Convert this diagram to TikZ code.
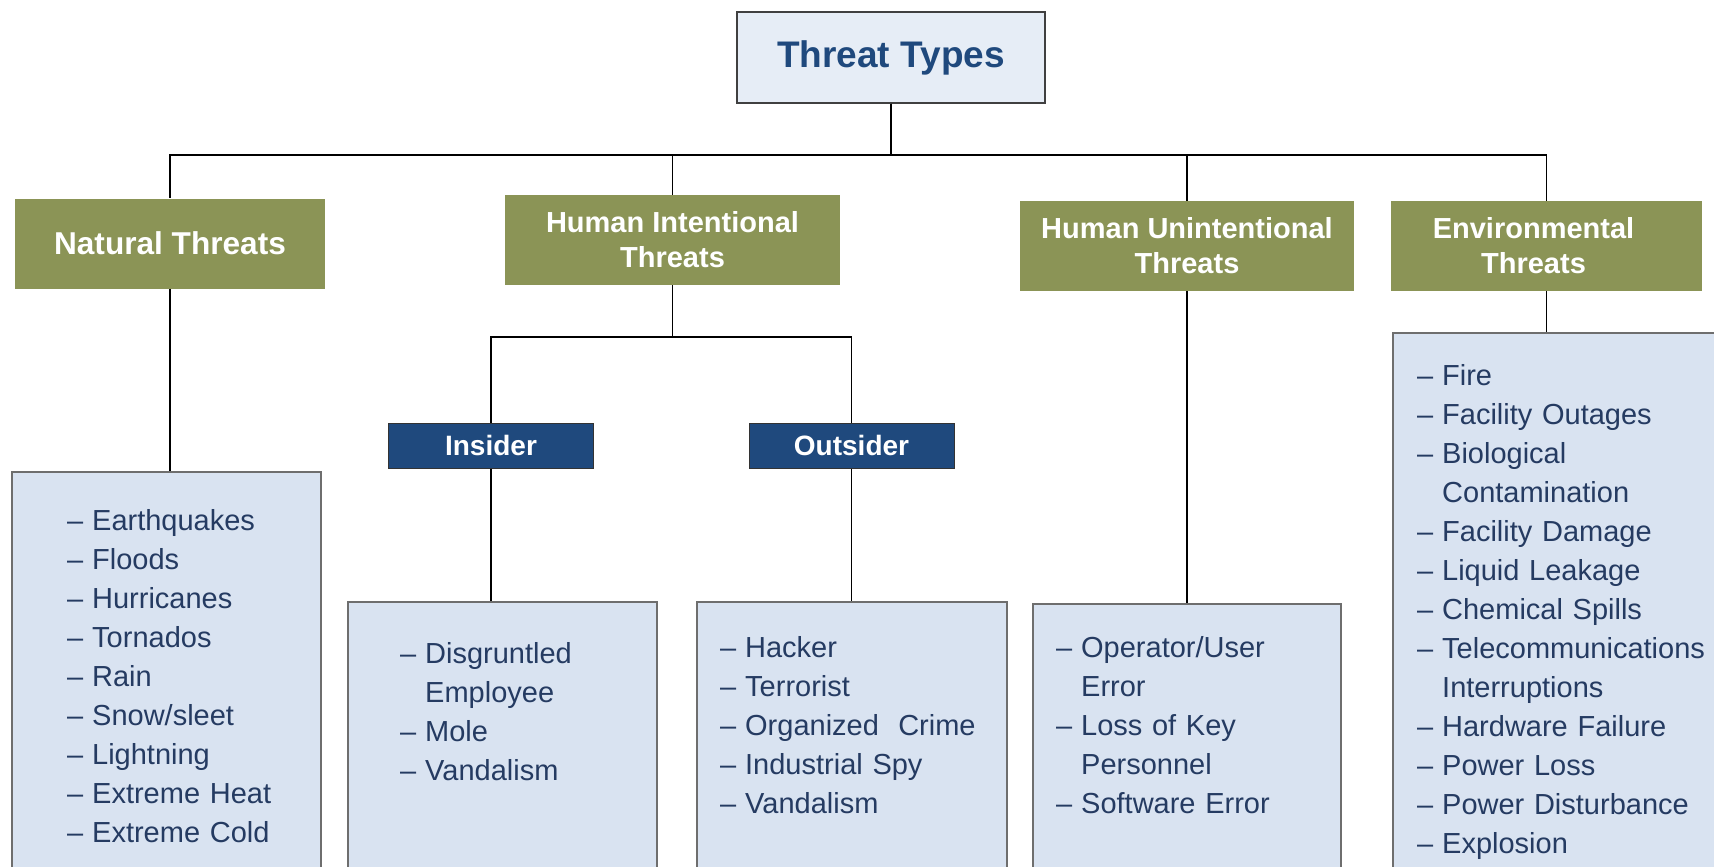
\documentclass[tikz,border=0pt]{standalone}
\usepackage{fontspec}
\setmainfont{Liberation Sans}
\definecolor{titleblue}{HTML}{1F497D}
\definecolor{itemblue}{HTML}{253B62}
\definecolor{paleblue}{HTML}{E6EDF6}
\definecolor{listblue}{HTML}{D9E3F1}
\definecolor{olivebox}{HTML}{8B9456}
\definecolor{boxgray}{HTML}{6E6E6E}
\usetikzlibrary{positioning,calc}

\newcommand{\itm}{\makebox[25pt][l]{–}}
\newcommand{\cont}{\hspace*{25pt}}

\tikzset{
  titlebox/.style={draw=black!75, line width=1.2pt, fill=paleblue, text=titleblue,
    font=\bfseries\fontsize{37}{42}\selectfont, inner sep=0pt,
    minimum width=308pt, minimum height=91pt},
  catbox/.style={fill=olivebox, text=white, font=\bfseries\fontsize{29}{35}\selectfont,
    align=center, inner sep=0pt, minimum width=#1, minimum height=90pt},
  sidebox/.style={draw=black!80, line width=1pt, fill=titleblue, text=white,
    font=\bfseries\fontsize{28}{32}\selectfont, inner sep=0pt,
    minimum width=205pt, minimum height=45pt},
  listbox/.style={draw=boxgray, line width=1.2pt, fill=listblue, inner sep=0pt},
  items/.style={anchor=base west, inner sep=0pt, text width=300pt, text=itemblue,
    font=\fontsize{29}{39}\selectfont},
  link/.style={line width=1.8pt}
}

\begin{document}
\begin{tikzpicture}[x=1pt,y=-1pt]
  \clip (0,0) rectangle (1714,867);
  \fill[white] (0,0) rectangle (1714,867);

  % top of the tree
  \node[titlebox] (types) at (891,57.5) {Threat Types};

  % the four kinds of threat
  \node[catbox=310pt, font=\bfseries\fontsize{31.6}{36}\selectfont] (nat) at (170,243.5) {Natural Threats};
  \node[catbox=335pt] (hint) at (672.5,240) {Human Intentional\\Threats};
  \node[catbox=334pt] (hunint) at (1187,246) {Human Unintentional\\Threats};
  \node[catbox=311pt] (env) at (1546.5,246) {Environmental\hspace*{26pt}\\Threats\hspace*{26pt}};

  \node[sidebox] (ins) at (491,445.5) {Insider};
  \node[sidebox] (out) at (851.5,445.5) {Outsider};

  % list boxes
  \node[listbox, minimum width=309pt, minimum height=428pt] (natlist) at (166.5,686) {};
  \node[listbox, minimum width=309pt, minimum height=298pt] (inslist) at (502.5,751) {};
  \node[listbox, minimum width=310pt, minimum height=298pt] (outlist) at (852,751) {};
  \node[listbox, minimum width=308pt, minimum height=296pt] (unintlist) at (1187,752) {};
  \node[listbox, minimum width=337pt, minimum height=567pt] (envlist) at (1561.5,616.5) {};

  \node[items] (natitems) at (67,530) {\itm Earthquakes\\\itm Floods\\\itm Hurricanes\\\itm Tornados\\\itm Rain\\\itm Snow/sleet\\\itm Lightning\\\itm Extreme Heat\\\itm Extreme Cold};
  \node[items] (insitems) at (400,663) {\itm Disgruntled\\\cont Employee\\\itm Mole\\\itm Vandalism};
  \node[items] (outitems) at (720,657) {\itm Hacker\\\itm Terrorist\\\itm Organized\ \ Crime\\\itm Industrial Spy\\\itm Vandalism};
  \node[items] (unintitems) at (1056,657) {\itm Operator/User\\\cont Error\\\itm Loss of Key\\\cont Personnel\\\itm Software Error};
  \node[items] (envitems) at (1417,385) {\itm Fire\\\itm Facility Outages\\\itm Biological\\\cont Contamination\\\itm Facility Damage\\\itm Liquid Leakage\\\itm Chemical Spills\\\itm Telecommunications\\\cont Interruptions\\\itm Hardware Failure\\\itm Power Loss\\\itm Power Disturbance\\\itm Explosion};

  % connectors
  \draw[link] (types.south) -- ++(0,51) -| (nat.north);
  \draw[link] (types.south) -- ++(0,51) -| (hint.north);
  \draw[link] (types.south) -- ++(0,51) -| (hunint.north);
  \draw[link] (types.south) -- ++(0,51) -| (env.north);
  \draw[link] (hint.south) -- ++(0,52) -| (ins.north);
  \draw[link] (hint.south) -- ++(0,52) -| (out.north);
  \draw[link] (nat.south) -- (nat.south |- natlist.north);
  \draw[link] (ins.south) -- (ins.south |- inslist.north);
  \draw[link] (out.south) -- (out.south |- outlist.north);
  \draw[link] (hunint.south) -- (hunint.south |- unintlist.north);
  \draw[link] (env.south) -- (env.south |- envlist.north);
\end{tikzpicture}
\end{document}
